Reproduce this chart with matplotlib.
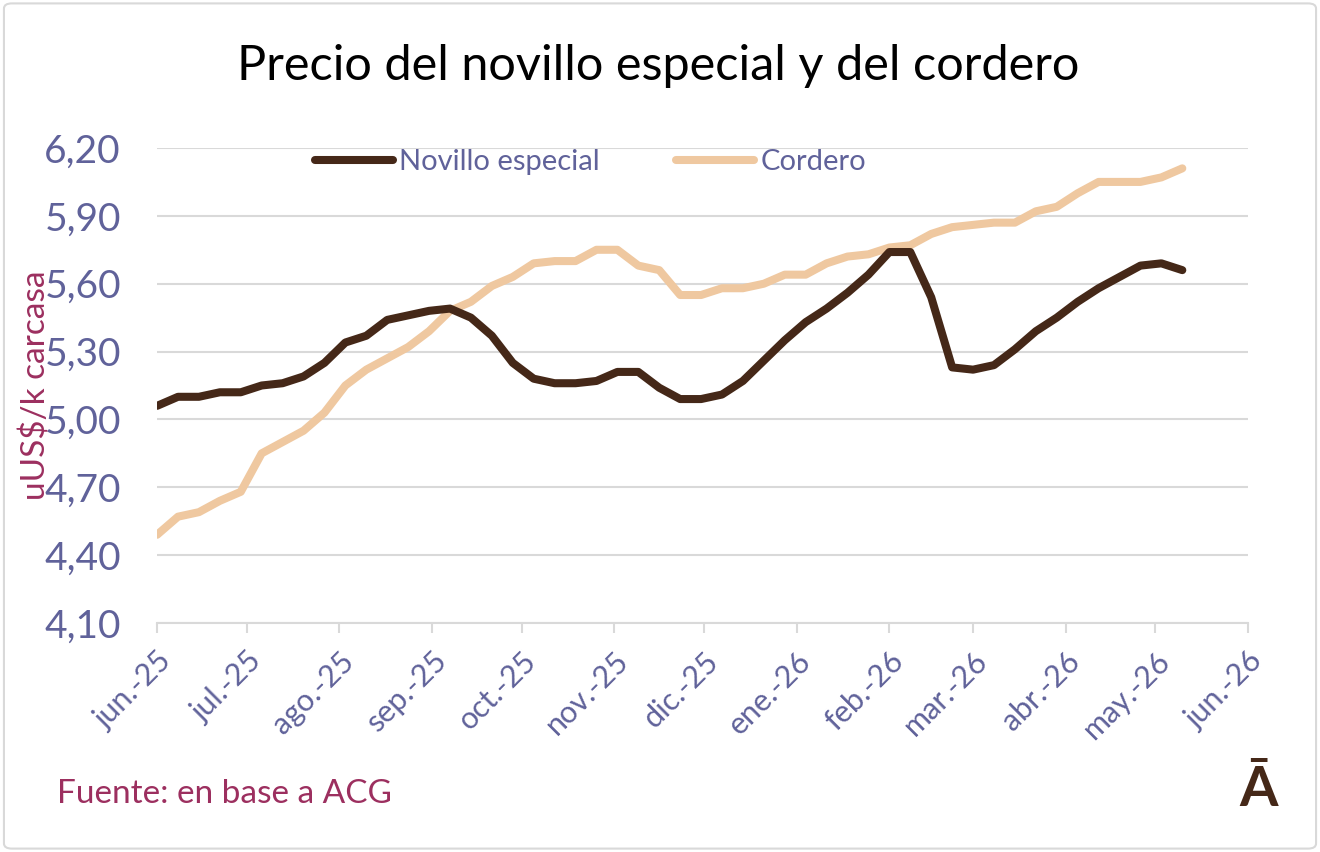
import matplotlib.pyplot as plt
from matplotlib.patches import FancyBboxPatch
import pandas as pd

# weekly data, first week starting 1 jun 2025
start = '2025-06-01'
novillo = [5.06, 5.10, 5.10, 5.12, 5.12, 5.15, 5.16, 5.19, 5.25, 5.34,
           5.37, 5.44, 5.46, 5.48, 5.49, 5.45, 5.37, 5.25, 5.18, 5.16,
           5.16, 5.17, 5.21, 5.21, 5.14, 5.09, 5.09, 5.11, 5.17, 5.26,
           5.35, 5.43, 5.49, 5.56, 5.64, 5.74, 5.74, 5.54, 5.23, 5.22,
           5.24, 5.31, 5.39, 5.45, 5.52, 5.58, 5.63, 5.68, 5.69, 5.66]
cordero = [4.49, 4.57, 4.59, 4.64, 4.68, 4.85, 4.90, 4.95, 5.03, 5.15,
           5.22, 5.27, 5.32, 5.39, 5.48, 5.52, 5.59, 5.63, 5.69, 5.70,
           5.70, 5.75, 5.75, 5.68, 5.66, 5.55, 5.55, 5.58, 5.58, 5.60,
           5.64, 5.64, 5.69, 5.72, 5.73, 5.76, 5.77, 5.82, 5.85, 5.86,
           5.87, 5.87, 5.92, 5.94, 6.00, 6.05, 6.05, 6.05, 6.07, 6.11]
month_labels = ['jun.-25', 'jul.-25', 'ago.-25', 'sep.-25', 'oct.-25', 'nov.-25',
                'dic.-25', 'ene.-26', 'feb.-26', 'mar.-26', 'abr.-26', 'may.-26',
                'jun.-26']
y_ticks = [4.10, 4.40, 4.70, 5.00, 5.30, 5.60, 5.90, 6.20]

dates = pd.date_range(start, periods=len(novillo), freq='7D')
months = pd.date_range(start, periods=len(month_labels), freq='MS')

plt.rcParams['font.family'] = ['Lato', 'DejaVu Sans']

label_col = '#60629a'
red_col = '#9c2f5f'
grid_col = '#d9d9d9'

fig = plt.figure(figsize=(13.2, 8.52), dpi=100)
ax = fig.add_axes([0.119, 0.2688, 0.8265, 0.5575])

ax.plot(dates, novillo, color='#452818', lw=5.8, label='Novillo especial',
        solid_capstyle='round', solid_joinstyle='round', zorder=3)
ax.plot(dates, cordero, color='#efc8a0', lw=5.8, label='Cordero',
        solid_capstyle='round', solid_joinstyle='round', zorder=2)

ax.set_xlim(months[0], months[-1])
ax.set_ylim(4.10, 6.20)
ax.set_yticks(y_ticks)
ax.set_yticklabels([f'{v:.2f}'.replace('.', ',') for v in y_ticks])
ax.set_xticks(months)
ax.set_xticklabels(month_labels, rotation=45, ha='right', rotation_mode='anchor')

ax.grid(axis='y', color=grid_col, lw=1.5)
ax.set_axisbelow(True)
for s in ['top', 'right', 'left']:
    ax.spines[s].set_visible(False)
ax.spines['bottom'].set_color(grid_col)
ax.spines['bottom'].set_linewidth(1.5)
ax.tick_params(axis='y', length=0, pad=26, labelsize=28, labelcolor=label_col)
ax.tick_params(axis='x', length=7, width=1.5, color=grid_col, pad=10,
               labelsize=22, labelcolor=label_col)

ax.legend(loc='center', bbox_to_anchor=(0.397, 0.97), ncol=2, frameon=False,
          fontsize=21, labelcolor=label_col, handlelength=2.7,
          handletextpad=0.2, columnspacing=2.6)

fig.text(0.499, 0.922, 'Precio del novillo especial y del cordero',
         ha='center', va='center', fontsize=35, color='black')
fig.text(36 / 1320, 0.548, r'uUS\$/k carcasa', rotation=90, ha='center',
         va='center', fontsize=24, color=red_col)
fig.text(57 / 1320, 1 - 794 / 852, 'Fuente: en base a ACG', ha='left',
         va='center', fontsize=24, color=red_col)
fig.text(1259 / 1320, 1 - 790 / 852, 'Ā', ha='center', va='center',
         fontsize=40, fontweight='bold', color='#452818')

border = FancyBboxPatch((0.003, 0.004), 0.994, 0.992, transform=fig.transFigure,
                        boxstyle='round,pad=0,rounding_size=0.006',
                        facecolor='none', edgecolor=grid_col, lw=1.5)
fig.patches.append(border)

plt.savefig('out.png', dpi=100)
